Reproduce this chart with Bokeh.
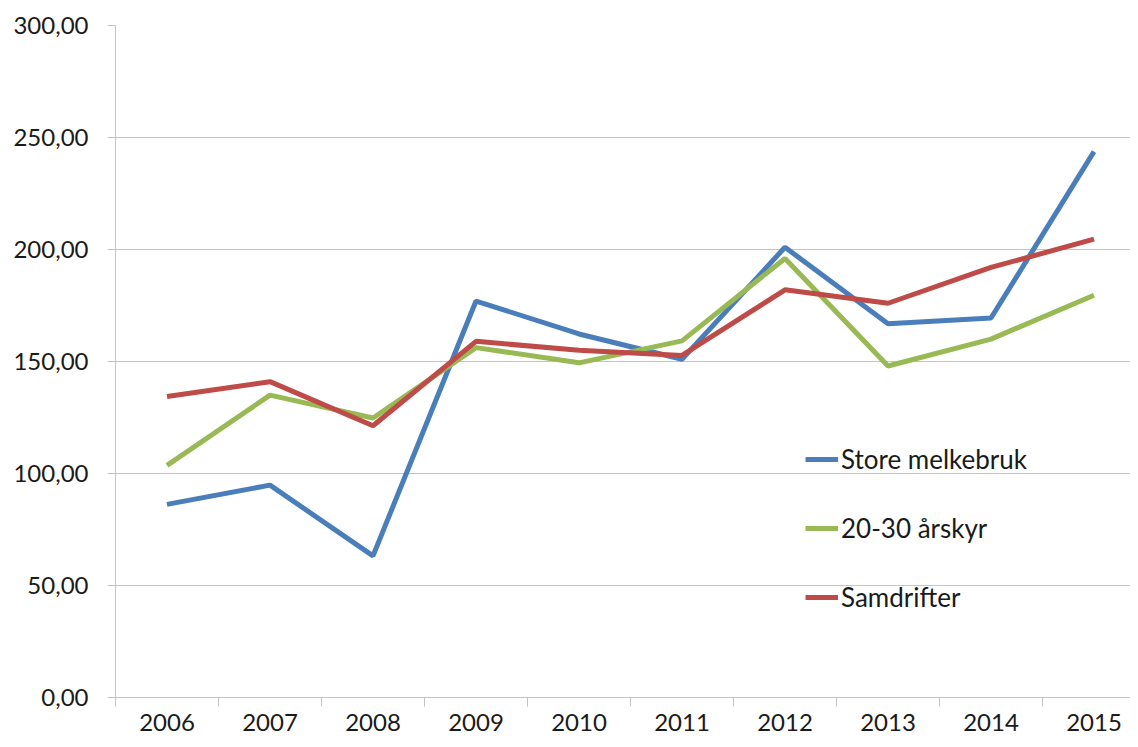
from bokeh.plotting import figure
from bokeh.models import Range1d, FixedTicker, Legend, LegendItem
from bokeh.embed import file_html
from bokeh.resources import INLINE

years = [2006, 2007, 2008, 2009, 2010, 2011, 2012, 2013, 2014, 2015]
store_melkebruk = [86.2, 94.8, 63.2, 177.0, 162.3, 151.0, 201.0, 166.8, 169.4, 243.7]
aarskyr_20_30 = [103.6, 135.0, 124.8, 156.2, 149.4, 159.2, 196.0, 148.0, 160.0, 179.6]
samdrifter = [134.4, 141.0, 121.3, 159.0, 155.0, 152.7, 182.0, 176.0, 192.0, 204.6]

series_names = ["Store melkebruk", "20-30 årskyr", "Samdrifter"]
y_ticks = [0, 50, 100, 150, 200, 250, 300]
y_tick_labels = ["0,00", "50,00", "100,00", "150,00", "200,00", "250,00", "300,00"]

FONT = "Lato"
TEXT = "#1a1a1a"
GRID = "#c4c4c4"

p = figure(width=1130, height=739, output_backend="svg", toolbar_location=None,
           x_range=Range1d(2005.5, 2005.5 + 1015 / 103.0), y_range=Range1d(0, 300),
           min_border_left=115, min_border_right=0, min_border_top=25, min_border_bottom=42)
p.outline_line_color = None
p.background_fill_color = "white"

r1 = p.line(years, store_melkebruk, line_color="#4a7ebb", line_width=5)
r2 = p.line(years, aarskyr_20_30, line_color="#98b954", line_width=5)
r3 = p.line(years, samdrifter, line_color="#be4b48", line_width=5)

# x axis
p.xaxis.ticker = FixedTicker(ticks=years, minor_ticks=[y - 0.5 for y in years] + [years[-1] + 0.5])
p.xaxis.major_tick_line_color = None
p.xaxis.major_tick_out = 0
p.xaxis.major_tick_in = 0
p.xaxis.minor_tick_out = 9
p.xaxis.minor_tick_in = 0
p.xaxis.minor_tick_line_color = GRID
p.xaxis.minor_tick_line_width = 1
p.xaxis.axis_line_color = GRID
p.xaxis.major_label_standoff = 7
p.xaxis.major_label_text_font = FONT
p.xaxis.major_label_text_font_size = "24px"
p.xaxis.major_label_text_color = TEXT

# y axis
p.yaxis.ticker = FixedTicker(ticks=y_ticks, minor_ticks=[])
p.yaxis.major_label_overrides = {t: l for t, l in zip(y_ticks, y_tick_labels)}
p.yaxis.major_tick_out = 8
p.yaxis.major_tick_in = 0
p.yaxis.major_tick_line_color = GRID
p.yaxis.axis_line_color = GRID
p.yaxis.minor_tick_line_color = None
p.yaxis.major_label_standoff = 19
p.yaxis.major_label_text_font = FONT
p.yaxis.major_label_text_font_size = "24px"
p.yaxis.major_label_text_color = TEXT

p.xgrid.grid_line_color = None
p.ygrid.grid_line_color = GRID
p.ygrid.grid_line_width = 1

legend = Legend(items=[LegendItem(label=series_names[0], renderers=[r1]),
                       LegendItem(label=series_names[1], renderers=[r2]),
                       LegendItem(label=series_names[2], renderers=[r3])],
                location=(690, 84), orientation="vertical")
legend.border_line_color = None
legend.background_fill_alpha = 0
legend.padding = 0
legend.margin = 0
legend.spacing = 37
legend.glyph_width = 33
legend.glyph_height = 30
legend.label_height = 30
legend.label_standoff = 3
legend.label_text_font = FONT
legend.label_text_font_size = "26px"
legend.label_text_color = TEXT
p.add_layout(legend, "center")

open("out.html", "w").write(file_html(p, INLINE))
